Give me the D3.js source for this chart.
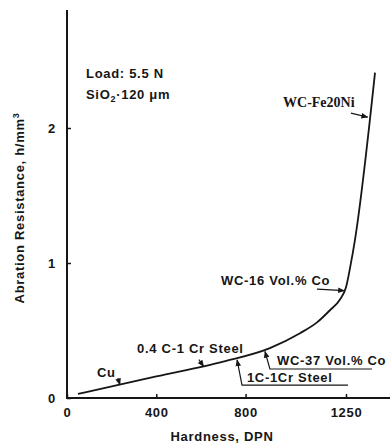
<!DOCTYPE html>
<html>
<head>
<meta charset="utf-8">
<script src="https://cdn.jsdelivr.net/npm/d3@7"></script>
<style>
  body { margin: 0; background: #fff; }
  svg text { font-family: "Liberation Sans", Arial, sans-serif; font-weight: bold; fill: #161616; }
  .lbl { font-size: 13px; letter-spacing: 0.7px; }
  .serif { font-family: "Liberation Serif", "Times New Roman", serif; font-size: 14px; letter-spacing: 0; }
</style>
</head>
<body>
<div id="chart"></div>
<script>
var W = 390, H = 445;

// curve
var hardness   = [49, 400, 700, 909, 1044, 1120, 1178, 1223, 1250, 1270, 1290, 1380];
var resistance = [0.03, 0.16, 0.27, 0.37, 0.48, 0.56, 0.65, 0.73, 0.82, 0.98, 1.17, 2.41];

var xTicks = [0, 400, 800, 1250];
var yTicks = [0, 1, 2];

var x = d3.scaleLinear().domain([0, 1250]).range([67, 346]);
var y = d3.scaleLinear().domain([0, 2]).range([398, 128]);

var svg = d3.select("#chart").append("svg").attr("width", W).attr("height", H);

svg.append("defs").append("marker")
    .attr("id", "head")
    .attr("viewBox", "0 0 10 10")
    .attr("refX", 9).attr("refY", 5)
    .attr("markerWidth", 7).attr("markerHeight", 7)
    .attr("markerUnits", "userSpaceOnUse")
    .attr("orient", "auto")
  .append("path").attr("d", "M0,1 L10,5 L0,9 Z").attr("fill", "#161616");

// axes
var xAxis = d3.axisBottom(x).tickValues(xTicks).tickFormat(d3.format("d"))
    .tickSizeInner(-4).tickSizeOuter(0).tickPadding(10);
var yAxis = d3.axisLeft(y).tickValues(yTicks).tickFormat(d3.format("d"))
    .tickSizeInner(-4).tickSizeOuter(0).tickPadding(11);

var gx = svg.append("g").attr("transform", "translate(0," + y(0) + ")").call(xAxis);
var gy = svg.append("g").attr("transform", "translate(" + x(0) + ",0)").call(yAxis);
gx.select(".domain").remove();
gy.select(".domain").remove();
[gx, gy].forEach(function(g) {
    g.selectAll("line").attr("stroke", "#161616").attr("stroke-width", 1.5);
    g.selectAll("text").attr("class", "lbl")
        .attr("font-family", null).attr("font-size", null).attr("fill", "#161616");
});

svg.append("line").attr("x1", x(0)).attr("x2", x(0)).attr("y1", 10).attr("y2", y(0))
    .attr("stroke", "#161616").attr("stroke-width", 2);
svg.append("line").attr("x1", x(0) - 1).attr("x2", W).attr("y1", y(0)).attr("y2", y(0))
    .attr("stroke", "#161616").attr("stroke-width", 2);

// axis titles
svg.append("text").attr("class", "lbl").attr("x", 222).attr("y", 441)
    .attr("text-anchor", "middle").text("Hardness, DPN");
var yt = svg.append("text").attr("class", "lbl")
    .attr("transform", "translate(24,208) rotate(-90)").attr("text-anchor", "middle");
yt.append("tspan").text("Abration Resistance, h/mm");
yt.append("tspan").attr("dy", -5).style("font-size", "9px").text("3");

// curve
var pts = hardness.map(function(h, i) { return [h, resistance[i]]; });
var line = d3.line().x(function(d) { return x(d[0]); }).y(function(d) { return y(d[1]); })
    .curve(d3.curveMonotoneX);
svg.append("path").datum(pts).attr("d", line)
    .attr("fill", "none").attr("stroke", "#161616").attr("stroke-width", 1.8);

// conditions box
svg.append("text").attr("class", "lbl").attr("x", 86).attr("y", 78).text("Load: 5.5 N");
var t2 = svg.append("text").attr("class", "lbl").attr("x", 86).attr("y", 99);
t2.append("tspan").text("SiO");
t2.append("tspan").attr("dy", 3).style("font-size", "9px").text("2");
t2.append("tspan").attr("dy", -3).text("\u00b7120 \u03bcm");

// labels with leader lines, positions in data units
var notes = [
    { text: "Cu", at: [134, 0.156], path: [[228, 0.148], [237, 0.098]] },
    { text: "0.4 C-1 Cr Steel", at: [314, 0.333], path: [[591, 0.284], [612, 0.233]] },
    { text: "WC-37 Vol.% Co", at: [941, 0.244], path: [[1366, 0.215], [909, 0.215], [887, 0.345]] },
    { text: "1C-1Cr Steel", at: [806, 0.119], path: [[1259, 0.096], [784, 0.096], [762, 0.282]] },
    { text: "WC-16 Vol.% Co", at: [690, 0.837], path: [[1120, 0.807], [1243, 0.795]] },
    { text: "WC-Fe20Ni", at: [968, 2.156], path: [[1272, 2.11], [1347, 2.08]], serif: true }
];

var leader = d3.line().x(function(d) { return x(d[0]); }).y(function(d) { return y(d[1]); });

notes.forEach(function(n) {
    svg.append("text").attr("class", n.serif ? "lbl serif" : "lbl")
        .attr("x", x(n.at[0])).attr("y", y(n.at[1])).text(n.text);
    svg.append("path").attr("d", leader(n.path))
        .attr("fill", "none").attr("stroke", "#161616").attr("stroke-width", 1.2)
        .attr("marker-end", "url(#head)");
});
</script>
</body>
</html>
